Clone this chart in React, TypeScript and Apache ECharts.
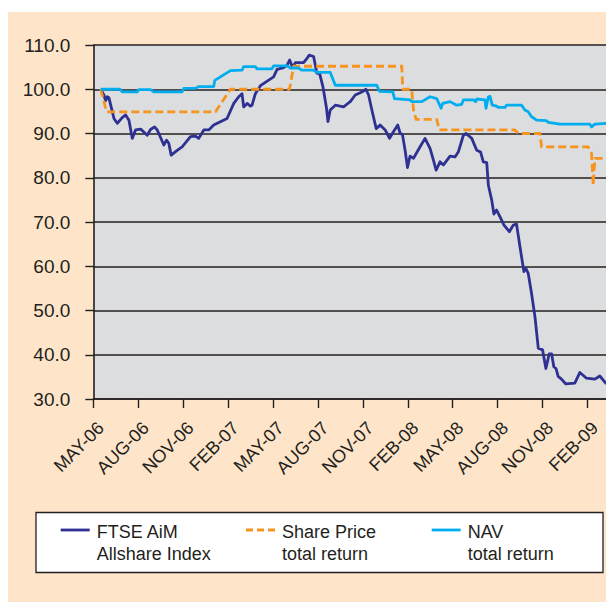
import React, { useEffect, useRef } from "react";
import * as echarts from "echarts";

// x = months since 1 May 2006, y = index value
const TICK_LABELS = ["MAY-06", "AUG-06", "NOV-06", "FEB-07", "MAY-07", "AUG-07", "NOV-07", "FEB-08", "MAY-08", "AUG-08", "NOV-08", "FEB-09"];
const Y_MIN = 30;
const Y_MAX = 110;
const X_MAX = 34.3;

const FTSE: [number, number][] = [
  [0.49, 100], [0.71, 98.7], [0.82, 97.4], [0.93, 98.3], [1.04, 98.1], [1.38, 93.4], [1.6, 92.3], [1.93, 93.6],
  [2.16, 94.2], [2.38, 93], [2.6, 88.9], [2.82, 90.8], [3.16, 91], [3.6, 89.6], [3.82, 90.9], [4.09, 91.5],
  [4.27, 90.8], [4.71, 87.4], [4.89, 88.5], [5.04, 87.8], [5.2, 85.1], [5.6, 86.2], [5.93, 87], [6.49, 89.3],
  [6.82, 89.4], [7.04, 88.9], [7.38, 90.8], [7.71, 90.8], [8.04, 91.9], [8.93, 93.4], [9.38, 96.8], [9.71, 98.3],
  [9.93, 99], [10.04, 96.0], [10.27, 96.8], [10.49, 96.2], [10.6, 96.4], [10.82, 99], [11.16, 100.8], [12.04, 102.8],
  [12.27, 104.5], [12.71, 104.9], [12.93, 105.4], [13.11, 106.6], [13.31, 104.9], [13.49, 106], [14.04, 106], [14.27, 107],
  [14.42, 107.7], [14.71, 107.4], [14.93, 103.6], [15.11, 103.6], [15.33, 100.6], [15.56, 96], [15.67, 92.7], [15.82, 95.3],
  [16.16, 96.4], [16.71, 96], [17.04, 96.9], [17.16, 97.2], [17.49, 98.7], [17.82, 99.2], [18.04, 99.6], [18.2, 100],
  [18.38, 98.7], [18.6, 95.3], [18.89, 91.1], [19.15, 91.9], [19.49, 90.8], [19.78, 88.9], [20.04, 90.4], [20.33, 91.9],
  [20.49, 90], [20.64, 89.8], [20.82, 86.2], [20.98, 82.3], [21.15, 84.9], [21.38, 84.4], [21.82, 87], [22.15, 88.9],
  [22.49, 86.6], [22.71, 84], [22.89, 81.7], [23.15, 83.6], [23.38, 82.9], [23.82, 84.9], [24.15, 84.7], [24.38, 85.9],
  [24.71, 89.6], [24.89, 90], [25.27, 88.9], [25.6, 86.2], [25.86, 85.8], [26.04, 83.6], [26.27, 83.4], [26.38, 78.3],
  [26.6, 75], [26.75, 71.8], [26.93, 72.7], [27.15, 71.2], [27.42, 69.3], [27.78, 67.8], [28.04, 69.3], [28.26, 69.5],
  [28.49, 64.4], [28.75, 58.8], [28.89, 59.5], [29.04, 58.4], [29.26, 53.9], [29.49, 48.6], [29.71, 41.5], [30.0, 41.1],
  [30.22, 36.9], [30.44, 40.2], [30.6, 40.2], [30.75, 37.3], [30.89, 36.9], [31.04, 35.1], [31.26, 34.5], [31.55, 33.4],
  [32.15, 33.6], [32.49, 36], [32.93, 34.7], [33.49, 34.5], [33.82, 35.2], [34.26, 33.4],
];

const SHARE_PRICE: [number, number][] = [
  [0.49, 100], [0.89, 94.9], [8.16, 94.9], [9.16, 100], [13.1, 100], [13.38, 105.2], [20.6, 105.2], [20.66, 100],
  [21.26, 100], [21.38, 95.3], [21.55, 93.2], [22.93, 93.2], [23.11, 90.8], [28.15, 90.8], [28.38, 90.0], [29.82, 90.0],
  [29.93, 87], [33.04, 87], [33.27, 85.5], [33.38, 78.3], [33.49, 84.4], [34.04, 84.4],
];

const NAV: [number, number][] = [
  [0.49, 100], [1.78, 100], [1.93, 99.4], [2.93, 99.4], [3.04, 99.9], [3.82, 99.9], [4.04, 99.4], [5.93, 99.4],
  [6.04, 100.2], [6.82, 100.2], [7.04, 100.6], [8.04, 100.6], [8.11, 102], [9.16, 104.2], [9.93, 104.3], [10.04, 105.1],
  [10.82, 105.1], [10.93, 104.6], [11.93, 104.6], [12.04, 105.3], [12.93, 105.3], [13.16, 104.8], [13.7, 104.8], [13.93, 104.3],
  [14.71, 104.3], [14.93, 103.8], [15.82, 103.8], [16.16, 100.9], [18.93, 100.9], [19.11, 99.5], [20.0, 99.4], [20.11, 97.9],
  [21.15, 97.6], [21.26, 97.2], [21.93, 97.2], [22.49, 98.3], [22.93, 97.9], [23.22, 95.7], [23.33, 96.8], [23.82, 97.2],
  [24.26, 96.4], [24.6, 96.6], [24.71, 97.6], [25.38, 97.6], [25.53, 97.2], [25.6, 97.8], [26.15, 97.6], [26.22, 95.7],
  [26.38, 98.3], [26.49, 98.4], [26.64, 96.4], [26.93, 96.2], [27.04, 95.9], [27.49, 95.9], [27.6, 96.4], [28.6, 96.4],
  [28.82, 95.3], [29.04, 94.9], [29.26, 93.8], [29.6, 93], [30.26, 92.9], [30.38, 92.5], [31.15, 92.1], [33.15, 92.1],
  [33.27, 91.5], [33.49, 92.1], [34.26, 92.3],
];

const SERIES_NAMES = ["FTSE AiM\nAllshare Index", "Share Price\ntotal return", "NAV\ntotal return"];
const COLORS = ["#2E3192", "#F7941D", "#00AEEF"];

const FONT = "'Liberation Sans', Arial, Helvetica, sans-serif";
const INK = "#231F20";
const LABEL_SHIFT = 0.5; // rotated month labels sit slightly right of their tick

export default function App() {
  const ref = useRef<HTMLDivElement>(null);

  useEffect(() => {
    if (!ref.current) return;
    const chart = echarts.init(ref.current, undefined, { renderer: "svg" });
    const tickValues = TICK_LABELS.map((_, i) => i * 3);
    const labelValues = tickValues.map((v) => v + LABEL_SHIFT);
    const datasets = [FTSE, SHARE_PRICE, NAV];

    const legendX = [52.7, 238, 423.7];
    const legendGraphics: any[] = [
      {
        type: "rect",
        z: 10,
        shape: { x: 28, y: 500.5, width: 567, height: 60 },
        style: { fill: "#ffffff", stroke: INK, lineWidth: 1.3 },
      },
    ];
    SERIES_NAMES.forEach((name, i) => {
      legendGraphics.push({
        type: "line",
        z: 11,
        shape: { x1: legendX[i], y1: 518, x2: legendX[i] + 29, y2: 518 },
        style: { stroke: COLORS[i], lineWidth: 2.8, lineDash: i === 1 ? [7, 4] : null },
      });
      legendGraphics.push({
        type: "text",
        z: 11,
        x: legendX[i] + 36,
        y: 508.5,
        style: {
          text: name,
          fill: INK,
          fontSize: 18,
          fontFamily: FONT,
          lineHeight: 22.6,
          verticalAlign: "top",
          align: "left",
        },
      });
    });

    chart.setOption({
      animation: false,
      backgroundColor: "#FEE5C9",
      textStyle: { fontFamily: FONT },
      grid: {
        left: 85.3,
        top: 33,
        width: 513.7,
        height: 354,
        show: true,
        backgroundColor: "#DCDDDE",
        borderWidth: 0,
        containLabel: false,
      },
      xAxis: {
        type: "value",
        min: 0,
        max: X_MAX,
        interval: 3,
        axisLine: { show: true, onZero: false, lineStyle: { color: INK, width: 1.6 } },
        axisTick: { show: true, length: 9, customValues: tickValues, lineStyle: { color: INK, width: 1.4 } },
        axisLabel: {
          show: true,
          customValues: labelValues,
          rotate: 45,
          margin: 26,
          fontSize: 18,
          color: INK,
          fontFamily: FONT,
          formatter: (v: number) => TICK_LABELS[Math.round((v - LABEL_SHIFT) / 3)] ?? "",
        },
        splitLine: { show: false },
      },
      yAxis: {
        type: "value",
        min: Y_MIN,
        max: Y_MAX,
        interval: 10,
        axisLine: { show: true, lineStyle: { color: INK, width: 1.6 } },
        axisTick: { show: true, length: 8, lineStyle: { color: INK, width: 1.4 } },
        axisLabel: {
          margin: 23,
          fontSize: 19,
          color: INK,
          fontFamily: FONT,
          formatter: (v: number) => v.toFixed(1),
        },
        splitLine: { show: true, lineStyle: { color: INK, width: 1.6 } },
      },
      series: datasets.map((d, i) => ({
        name: SERIES_NAMES[i],
        type: "line",
        data: d,
        showSymbol: false,
        symbol: "none",
        z: 3 + i,
        lineStyle: {
          color: COLORS[i],
          width: 2.8,
          type: i === 1 ? [8, 4] : "solid",
          join: "round",
        },
      })),
      graphic: legendGraphics,
    });

    return () => chart.dispose();
  }, []);

  return (
    <div style={{ paddingTop: 4 }}>
      <div ref={ref} style={{ width: 606, height: 590 }} />
    </div>
  );
}
